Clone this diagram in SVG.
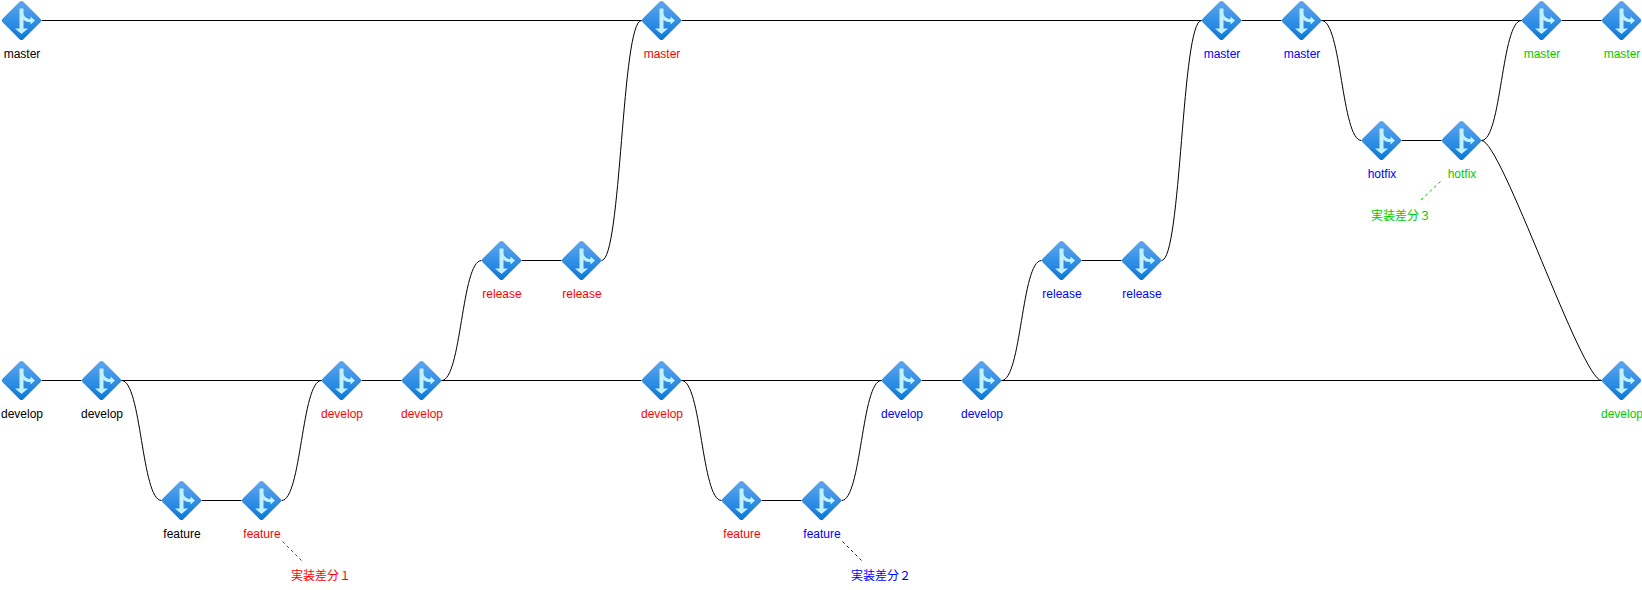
<svg xmlns="http://www.w3.org/2000/svg" xmlns:xlink="http://www.w3.org/1999/xlink" width="1642" height="590" viewBox="0 0 1642 590">
<style>
text{font-family:"Liberation Sans",Arial,"Noto Sans CJK JP",sans-serif;font-size:12px;text-anchor:middle}
.k{fill:#000}.r{fill:#ff0000}.b{fill:#0000ff}.g{fill:#00cc00}
.e{fill:none;stroke:#000;stroke-width:1}
.d{fill:none;stroke-width:1;stroke-dasharray:3 3}
.n{font-family:"Noto Sans CJK JP","Liberation Sans",sans-serif}
</style>
<defs>
<linearGradient id="gr" x1="0" y1="0" x2="0" y2="1"><stop offset="0" stop-color="#5ea7f2"/><stop offset="1" stop-color="#0a78d6"/></linearGradient>
<g id="git">
<path d="M-1.4-19.2Q0-20 1.4-19.2L19.2-1.4Q20 0 19.2 1.4L1.4 19.2Q0 20-1.4 19.2L-19.2 1.4Q-20 0-19.2-1.4Z" fill="url(#gr)"/>
<path d="M-2-12H2V-7Q2.5-3 7.5-1.5H9V-4L13.5 0L9 4V1.5H7Q4 1.5 2-1V8H6.5L0 13.5L-6.5 8H-2Z" fill="#c3f1ff"/>
</g>
</defs>
<g id="connectors" transform="translate(.5 .5)">
<path class="e" d="M41 20H641M681 20H1201M1241 20H1281M1321 20H1521M1561 20H1601"/>
<path class="e" d="M41 380H81M121 380H321M361 380H401M441 380H641M681 380H881M921 380H961M1001 380H1601"/>
<path class="e" d="M201 500H241M761 500H801M521 260H561M1081 260H1121M1401 140H1441"/>
<path class="e" d="M121 380C141 380 141 500 161 500M281 500C301 500 301 380 321 380M441 380C461 380 461 260 481 260M601 260C621 260 621 20 641 20M681 380C701 380 701 500 721 500M841 500C861 500 861 380 881 380M1001 380C1021 380 1021 260 1041 260M1161 260C1181 260 1181 20 1201 20M1321 20C1341 20 1341 140 1361 140M1481 140C1501 140 1501 20 1521 20M1481 140C1501 140 1581 380 1601 380"/>
<path class="d" stroke="#ff0000" d="M282 541L301 560"/>
<path class="d" stroke="#0000ff" d="M842 541L861 560"/>
<path class="d" stroke="#00cc00" d="M1440 181L1420 200"/>
</g>
<g id="m1"><use href="#git" x="21.5" y="20.5"/><text class="k" x="22" y="58">master</text></g>
<g id="m2"><use href="#git" x="661.5" y="20.5"/><text class="r" x="662" y="58">master</text></g>
<g id="m3"><use href="#git" x="1221.5" y="20.5"/><text class="b" x="1222" y="58">master</text></g>
<g id="m4"><use href="#git" x="1301.5" y="20.5"/><text class="b" x="1302" y="58">master</text></g>
<g id="m5"><use href="#git" x="1541.5" y="20.5"/><text class="g" x="1542" y="58">master</text></g>
<g id="m6"><use href="#git" x="1621.5" y="20.5"/><text class="g" x="1622" y="58">master</text></g>
<g id="h1"><use href="#git" x="1381.5" y="140.5"/><text class="b" x="1382" y="178">hotfix</text></g>
<g id="h2"><use href="#git" x="1461.5" y="140.5"/><text class="g" x="1462" y="178">hotfix</text></g>
<g id="r1"><use href="#git" x="501.5" y="260.5"/><text class="r" x="502" y="298">release</text></g>
<g id="r2"><use href="#git" x="581.5" y="260.5"/><text class="r" x="582" y="298">release</text></g>
<g id="r3"><use href="#git" x="1061.5" y="260.5"/><text class="b" x="1062" y="298">release</text></g>
<g id="r4"><use href="#git" x="1141.5" y="260.5"/><text class="b" x="1142" y="298">release</text></g>
<g id="d1"><use href="#git" x="21.5" y="380.5"/><text class="k" x="22" y="418">develop</text></g>
<g id="d2"><use href="#git" x="101.5" y="380.5"/><text class="k" x="102" y="418">develop</text></g>
<g id="d3"><use href="#git" x="341.5" y="380.5"/><text class="r" x="342" y="418">develop</text></g>
<g id="d4"><use href="#git" x="421.5" y="380.5"/><text class="r" x="422" y="418">develop</text></g>
<g id="d5"><use href="#git" x="661.5" y="380.5"/><text class="r" x="662" y="418">develop</text></g>
<g id="d6"><use href="#git" x="901.5" y="380.5"/><text class="b" x="902" y="418">develop</text></g>
<g id="d7"><use href="#git" x="981.5" y="380.5"/><text class="b" x="982" y="418">develop</text></g>
<g id="d8"><use href="#git" x="1621.5" y="380.5"/><text class="g" x="1622" y="418">develop</text></g>
<g id="f1"><use href="#git" x="181.5" y="500.5"/><text class="k" x="182" y="538">feature</text></g>
<g id="f2"><use href="#git" x="261.5" y="500.5"/><text class="r" x="262" y="538">feature</text></g>
<g id="f3"><use href="#git" x="741.5" y="500.5"/><text class="r" x="742" y="538">feature</text></g>
<g id="f4"><use href="#git" x="821.5" y="500.5"/><text class="b" x="822" y="538">feature</text></g>
<g id="l1"><text class="r n" x="321" y="579.5">実装差分１</text></g>
<g id="l2"><text class="b n" x="881" y="579.5">実装差分２</text></g>
<g id="l3"><text class="g n" x="1401" y="219.5">実装差分３</text></g>
</svg>
